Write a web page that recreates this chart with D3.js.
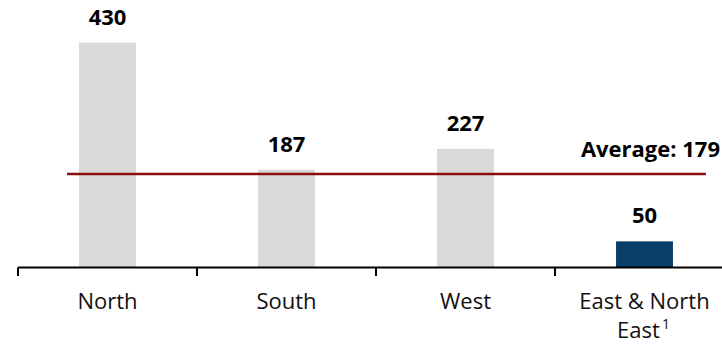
<!DOCTYPE html>
<html>
<head>
<meta charset="utf-8">
<script src="https://cdn.jsdelivr.net/npm/d3@7"></script>
<style>
  html, body { margin: 0; padding: 0; background: #fff; }
  svg { display: block; font-family: "Open Sans", sans-serif; }
</style>
</head>
<body>
<svg id="chart" width="722" height="346"></svg>
<script>
// Regional values
const categories = ["North", "South", "West", "East & North East"];
const values = [430, 187, 227, 50];
const footnotes = ["", "", "", "1"];
const highlighted = [false, false, false, true];
const averageValue = 179;
const averageLabel = "Average: " + averageValue;

const svg = d3.select("#chart");

const baseY = 267.5;
const x = d3.scaleBand()
  .domain(categories)
  .range([18, 734])
  .padding(0);

const y = d3.scaleLinear()
  .domain([0, d3.max(values)])
  .range([baseY, 42.7]);

const barW = x.bandwidth() * 0.318;
const data = categories.map((c, i) => ({ c, v: values[i], hi: highlighted[i], fn: footnotes[i] }));

// Bars
svg.append("g").selectAll("rect")
  .data(data)
  .join("rect")
  .attr("x", d => x(d.c) + x.bandwidth() / 2 - barW / 2)
  .attr("y", d => y(d.v))
  .attr("width", barW)
  .attr("height", d => y(0) - y(d.v))
  .attr("fill", d => d.hi ? "#0b3d6b" : "#d9d9d9");

// Value labels above bars
svg.append("g").selectAll("text")
  .data(data)
  .join("text")
  .attr("x", d => x(d.c) + x.bandwidth() / 2)
  .attr("y", d => y(d.v) - 18)
  .attr("text-anchor", "middle")
  .attr("font-size", 22)
  .attr("font-weight", 700)
  .attr("fill", "#000")
  .text(d => d.v);

// Average line
const step = x.step();
const avgY = y(averageValue);
svg.append("line")
  .attr("x1", x.range()[0] + step * 0.274)
  .attr("x2", x.range()[1] - step * 0.157)
  .attr("y1", avgY)
  .attr("y2", avgY)
  .attr("stroke", "#8b0e0e")
  .attr("stroke-width", 2.5);

svg.append("text")
  .attr("x", 720)
  .attr("y", avgY - 16.5)
  .attr("text-anchor", "end")
  .attr("font-size", 22)
  .attr("font-weight", 700)
  .attr("fill", "#000")
  .text(averageLabel);

// Category axis: ticks sit on band boundaries
const axis = svg.append("g");
axis.append("line")
  .attr("x1", x.range()[0])
  .attr("x2", 722)
  .attr("y1", baseY)
  .attr("y2", baseY)
  .attr("stroke", "#000")
  .attr("stroke-width", 2);

axis.selectAll("line.tick")
  .data(categories)
  .join("line")
  .attr("class", "tick")
  .attr("x1", d => x(d))
  .attr("x2", d => x(d))
  .attr("y1", baseY)
  .attr("y2", baseY + 8.5)
  .attr("stroke", "#000")
  .attr("stroke-width", 2);

// Category labels, wrapped to two lines where needed
const labelG = axis.selectAll("text.cat")
  .data(data)
  .join("text")
  .attr("class", "cat")
  .attr("text-anchor", "middle")
  .attr("font-size", 22)
  .attr("fill", "#111");

labelG.each(function(d) {
  const t = d3.select(this);
  const cx = x(d.c) + x.bandwidth() / 2;
  const lines = d.c === "East & North East" ? ["East & North", "East"] : [d.c];
  lines.forEach((ln, i) => {
    const last = i === lines.length - 1;
    const ts = t.append("tspan")
      .attr("x", cx + (last && d.fn ? -1 : 0))
      .attr("y", 308.5 + i * 29)
      .text(ln);
    if (last && d.fn) {
      ts.append("tspan")
        .attr("font-size", 14)
        .attr("dx", 2)
        .attr("dy", -9)
        .text(d.fn);
    }
  });
});
</script>
</body>
</html>
